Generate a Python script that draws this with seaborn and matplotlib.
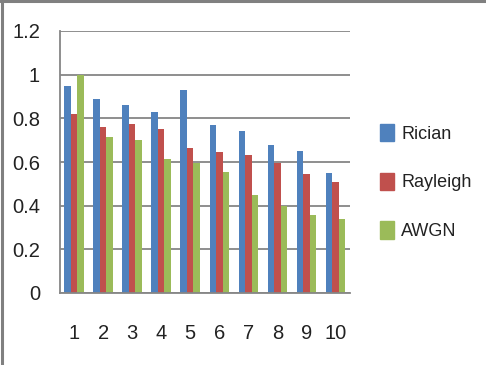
import matplotlib
matplotlib.use("Agg")
import matplotlib.pyplot as plt
import seaborn as sns
import pandas as pd
from matplotlib.lines import Line2D
from matplotlib.ticker import FixedLocator

categories = ["1", "2", "3", "4", "5", "6", "7", "8", "9", "10"]
rician = [0.95, 0.89, 0.86, 0.83, 0.93, 0.77, 0.74, 0.68, 0.65, 0.55]
rayleigh = [0.82, 0.76, 0.775, 0.75, 0.665, 0.645, 0.63, 0.595, 0.545, 0.51]
awgn = [1.0, 0.715, 0.70, 0.615, 0.595, 0.555, 0.45, 0.40, 0.355, 0.34]
series_names = ["Rician", "Rayleigh", "AWGN"]
colors = ["#4F81BD", "#C0504D", "#9BBB59"]
yticks = [0, 0.2, 0.4, 0.6, 0.8, 1, 1.2]
ytick_labels = ["0", "0.2", "0.4", "0.6", "0.8", "1", "1.2"]

rows = []
for name, vals in zip(series_names, [rician, rayleigh, awgn]):
    for c, v in zip(categories, vals):
        rows.append({"cat": c, "series": name, "value": v})
df = pd.DataFrame(rows)

sns.set_style("white")
plt.rcParams["font.family"] = ["Liberation Sans", "DejaVu Sans"]

fig = plt.figure(figsize=(4.86, 3.65), dpi=100)
ax = fig.add_axes([59.5 / 486, 72 / 365, (350 - 59.5) / 486, (293 - 31) / 365])

sns.barplot(data=df, x="cat", y="value", hue="series", order=categories,
            hue_order=series_names, palette=colors, width=0.67, gap=0,
            saturation=1, ax=ax, legend=False, errorbar=None)
for p in ax.patches:
    p.set_edgecolor("none")

grid_c = "#868686"
ax.set_ylim(0, 1.2)
ax.set_xlim(-0.5, len(categories) - 0.5)
ax.set_yticks(yticks)
ax.set_yticklabels(ytick_labels, fontsize=14.5, color="#222222")
ax.set_xticks(range(len(categories)))
ax.set_xticklabels(categories, fontsize=14.5, color="#222222")
ax.xaxis.set_minor_locator(FixedLocator([i - 0.5 for i in range(len(categories) + 1)]))
ax.tick_params(axis="x", which="major", length=0, pad=22)
ax.tick_params(axis="x", which="minor", length=6.5, width=1.3, color=grid_c, direction="out")
ax.tick_params(axis="y", which="major", length=4.5, width=1.3, color=grid_c, direction="out", pad=9.5)
ax.yaxis.grid(True, color=grid_c, linewidth=1.3)
ax.set_axisbelow(True)
ax.set_xlabel("")
ax.set_ylabel("")
for s in ["top", "right"]:
    ax.spines[s].set_visible(False)
ax.spines["left"].set_color(grid_c)
ax.spines["left"].set_linewidth(1.3)
ax.spines["bottom"].set_color(grid_c)
ax.spines["bottom"].set_linewidth(1.3)

handles = [plt.Rectangle((0, 0), 1, 1, color=c) for c in colors]
fig.legend(handles, series_names, loc="center left",
           bbox_to_anchor=(364 / 486, 1 - 182 / 365), frameon=False,
           fontsize=13, handlelength=0.75, handleheight=1.1, handletextpad=0.4,
           labelspacing=1.65, labelcolor="#222222")

# figure border on left and top
fig.add_artist(Line2D([1.5 / 486, 1.5 / 486], [0, 1], color="#808080", lw=2.2, transform=fig.transFigure))
fig.add_artist(Line2D([0, 1], [1 - 1.2 / 365, 1 - 1.2 / 365], color="#808080", lw=2.2, transform=fig.transFigure))

fig.savefig("out.png", dpi=100)
